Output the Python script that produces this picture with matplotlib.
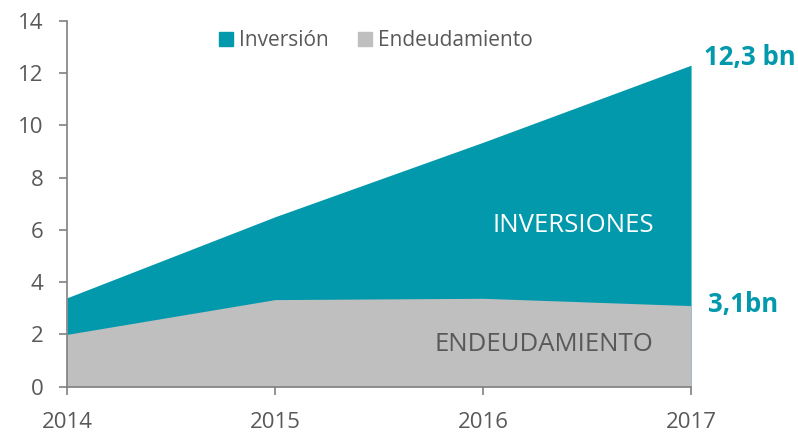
import matplotlib.pyplot as plt
from matplotlib.patches import Patch

years = [2014, 2015, 2016, 2017]
inversion = [3.4, 6.5, 9.35, 12.3]
endeudamiento = [2.0, 3.33, 3.38, 3.1]

teal = "#0399ac"
grey = "#bfbfbf"
text_grey = "#595959"

plt.rcParams['font.family'] = ['Open Sans', 'DejaVu Sans']

fig = plt.figure(figsize=(7.98, 4.32), dpi=100)
ax = fig.add_axes([0.084, 0.105, 0.782, 0.847])

ax.fill_between(years, 0, inversion, color=teal, linewidth=0)
ax.fill_between(years, 0, endeudamiento, color=grey, linewidth=0)

ax.set_xlim(2014, 2017)
ax.set_ylim(0, 14)
ax.set_xticks(years)
ax.set_yticks(range(0, 15, 2))
ax.tick_params(colors="#808080", labelcolor=text_grey, labelsize=16, length=6, width=1.2)
ax.tick_params(axis="x", pad=12)
ax.tick_params(axis="y", pad=11)
for s in ["top", "right"]:
    ax.spines[s].set_visible(False)
for s in ["left", "bottom"]:
    ax.spines[s].set_color("#808080")
    ax.spines[s].set_linewidth(1.2)

ax.text(2016.82, 6.15, "INVERSIONES", color="white", fontsize=18.5, ha="right", va="center")
ax.text(2016.82, 1.6, "ENDEUDAMIENTO", color=text_grey, fontsize=18.5, ha="right", va="center")
ax.text(2017.06, 12.6, "12,3 bn", color=teal, fontsize=18.5, fontweight="bold",
        ha="left", va="center", clip_on=False)
ax.text(2017.08, 3.15, "3,1bn", color=teal, fontsize=18.5, fontweight="bold",
        ha="left", va="center", clip_on=False)

handles = [Patch(color=teal, label="Inversión"), Patch(color=grey, label="Endeudamiento")]
leg = ax.legend(handles=handles, loc="upper center", bbox_to_anchor=(0.495, 1.025), ncol=2,
                frameon=False, fontsize=15, handlelength=0.67, handleheight=0.67,
                handletextpad=0.3, columnspacing=1.4)
for t in leg.get_texts():
    t.set_color(text_grey)

fig.savefig("out.png", dpi=100)
